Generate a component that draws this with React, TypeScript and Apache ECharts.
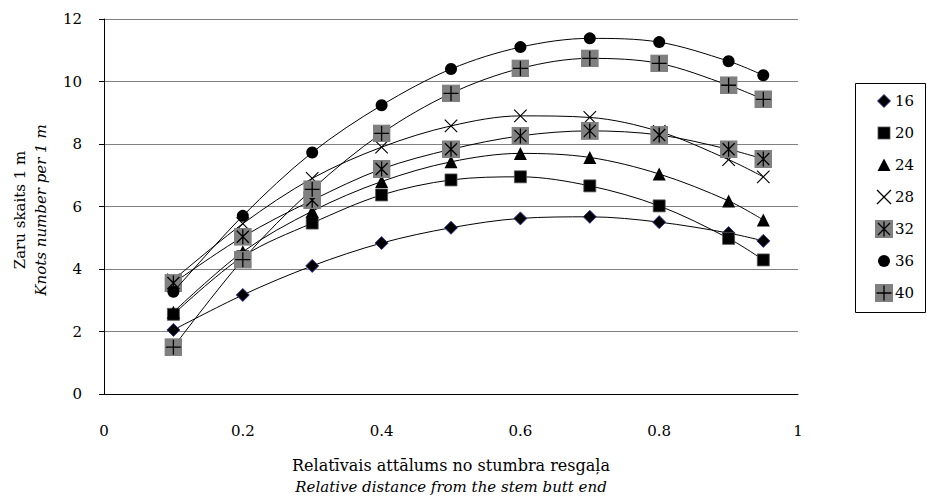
import React, { useEffect, useRef } from "react";
import * as echarts from "echarts";

const xValues = [0.1, 0.2, 0.3, 0.4, 0.5, 0.6, 0.7, 0.8, 0.9, 0.95];
const seriesNames = ["16", "20", "24", "28", "32", "36", "40"];
const s16 = [2.05, 3.17, 4.1, 4.83, 5.32, 5.62, 5.67, 5.5, 5.15, 4.9];
const s20 = [2.55, 4.4, 5.47, 6.37, 6.85, 6.95, 6.66, 6.02, 4.98, 4.29];
const s24 = [2.62, 4.55, 5.85, 6.8, 7.43, 7.7, 7.57, 7.04, 6.18, 5.57];
const s28 = [3.65, 5.45, 6.9, 7.9, 8.58, 8.9, 8.85, 8.4, 7.5, 6.95];
const s32 = [3.55, 5.03, 6.2, 7.2, 7.83, 8.26, 8.42, 8.29, 7.83, 7.52];
const s36 = [3.27, 5.7, 7.73, 9.24, 10.4, 11.1, 11.38, 11.26, 10.65, 10.2];
const s40 = [1.5, 4.3, 6.55, 8.34, 9.62, 10.42, 10.74, 10.58, 9.88, 9.43];
const seriesValues = [s16, s20, s24, s28, s32, s36, s40];
const yTicks = [0, 2, 4, 6, 8, 10, 12];
const xTitle = "Relatīvais attālums no stumbra resgaļa";
const xTitleEn = "Relative distance from the stem butt end";
const yTitle = "Zaru skaits 1 m";
const yTitleEn = "Knots number per 1 m";

const FONT = "DejaVu Serif";

const svgUri = (body: string) =>
  "image://data:image/svg+xml;charset=utf-8," +
  encodeURIComponent(
    `<svg xmlns='http://www.w3.org/2000/svg' width='18' height='18' viewBox='0 0 18 18'>${body}</svg>`
  );

const ICON_DIAMOND = svgUri("<polygon points='9,2.5 15.5,9 9,15.5 2.5,9' fill='#000' stroke='#333399' stroke-width='1'/>");
const ICON_SQUARE = svgUri("<rect x='3' y='3' width='12' height='12' fill='#000' stroke='#555' stroke-width='0.8'/>");
const ICON_TRI = svgUri("<polygon points='9,2.5 15.5,15 2.5,15' fill='#000'/>");
const ICON_X = svgUri("<path d='M2,2L16,16M16,2L2,16' stroke='#000' stroke-width='1.3' fill='none'/>");
const ICON_STAR = svgUri(
  "<rect x='0' y='0' width='18' height='18' fill='#808080'/><path d='M3,3L15,15M15,3L3,15M9,1.5L9,16.5' stroke='#000' stroke-width='1.3' fill='none'/>"
);
const ICON_CIRCLE = svgUri("<circle cx='9' cy='9' r='6' fill='#000'/>");
const ICON_PLUS = svgUri(
  "<rect x='0' y='0' width='18' height='18' fill='#808080'/><path d='M1.5,9L16.5,9M9,1.5L9,16.5' stroke='#000' stroke-width='1.3' fill='none'/>"
);

const seriesSymbols: any[] = [
  { symbol: "diamond", size: 13, itemStyle: { color: "#000", borderColor: "#333399", borderWidth: 1 } },
  { symbol: "rect", size: 12, itemStyle: { color: "#000", borderColor: "#555", borderWidth: 0.8 } },
  { symbol: "triangle", size: 13, itemStyle: { color: "#000" } },
  { symbol: ICON_X, size: 16, itemStyle: { color: "#000" } },
  { symbol: ICON_STAR, size: 18, itemStyle: { color: "#000" } },
  { symbol: "circle", size: 12, itemStyle: { color: "#000" } },
  { symbol: ICON_PLUS, size: 18, itemStyle: { color: "#000" } },
];
const legendIcons = [ICON_DIAMOND, ICON_SQUARE, ICON_TRI, ICON_X, ICON_STAR, ICON_CIRCLE, ICON_PLUS];

export default function App() {
  const ref = useRef<HTMLDivElement>(null);
  useEffect(() => {
    if (!ref.current) return;
    const chart = echarts.init(ref.current, undefined, { renderer: "svg" });
    const series = seriesNames.map((name, i) => ({
      name,
      type: "line",
      data: xValues.map((x, j) => [x, seriesValues[i][j]]),
      smooth: 0.33,
      symbol: seriesSymbols[i].symbol,
      symbolSize: seriesSymbols[i].size,
      showAllSymbol: true,
      lineStyle: { color: "#000", width: 1 },
      itemStyle: seriesSymbols[i].itemStyle,
      emphasis: { disabled: true },
      z: 2 + i,
    }));
    chart.setOption({
      animation: false,
      backgroundColor: "#fff",
      textStyle: { fontFamily: FONT },
      grid: { left: 104, top: 19, width: 694, height: 375, containLabel: false },
      xAxis: {
        type: "value",
        min: 0,
        max: 1,
        interval: 0.2,
        axisLine: { show: true, lineStyle: { color: "#000", width: 1 } },
        axisTick: { show: false },
        splitLine: { show: false },
        axisLabel: { color: "#000", fontFamily: FONT, fontSize: 15, margin: 29 },
      },
      yAxis: {
        type: "value",
        min: yTicks[0],
        max: yTicks[yTicks.length - 1],
        interval: 2,
        axisLine: { show: true, lineStyle: { color: "#000", width: 1 } },
        axisTick: { show: true, length: 5, lineStyle: { color: "#000" } },
        splitLine: { show: true, lineStyle: { color: "#808080", width: 1 } },
        axisLabel: { color: "#000", fontFamily: FONT, fontSize: 15, margin: 22 },
      },
      legend: {
        orient: "vertical",
        left: 875,
        top: 92,
        itemWidth: 18,
        itemHeight: 18,
        itemGap: 14,
        padding: 0,
        selectedMode: false,
        textStyle: { color: "#000", fontFamily: FONT, fontSize: 15, padding: [0, 0, 0, -3] },
        data: seriesNames.map((n, i) => ({ name: n, icon: legendIcons[i] })),
      },
      graphic: [
        {
          type: "rect",
          shape: { x: 855.5, y: 83.5, width: 70, height: 229 },
          style: { fill: "none", stroke: "#000", lineWidth: 1 },
          silent: true,
        },
        {
          type: "text",
          x: 451,
          y: 465,
          style: { text: xTitle, font: `16px '${FONT}'`, fill: "#000", align: "center", verticalAlign: "middle" },
        },
        {
          type: "text",
          x: 451,
          y: 487,
          style: { text: xTitleEn, font: `italic 15px '${FONT}'`, fill: "#000", align: "center", verticalAlign: "middle" },
        },
        {
          type: "text",
          x: 20,
          y: 210,
          rotation: Math.PI / 2,
          style: { text: yTitle, font: `15px '${FONT}'`, fill: "#000", align: "center", verticalAlign: "middle" },
        },
        {
          type: "text",
          x: 41,
          y: 210,
          rotation: Math.PI / 2,
          style: { text: yTitleEn, font: `italic 15px '${FONT}'`, fill: "#000", align: "center", verticalAlign: "middle" },
        },
      ],
      series,
    });
    return () => chart.dispose();
  }, []);
  return (
    <div
      ref={ref}
      style={{ position: "absolute", left: 0, top: 0, width: 927, height: 502, background: "#fff" }}
    />
  );
}
